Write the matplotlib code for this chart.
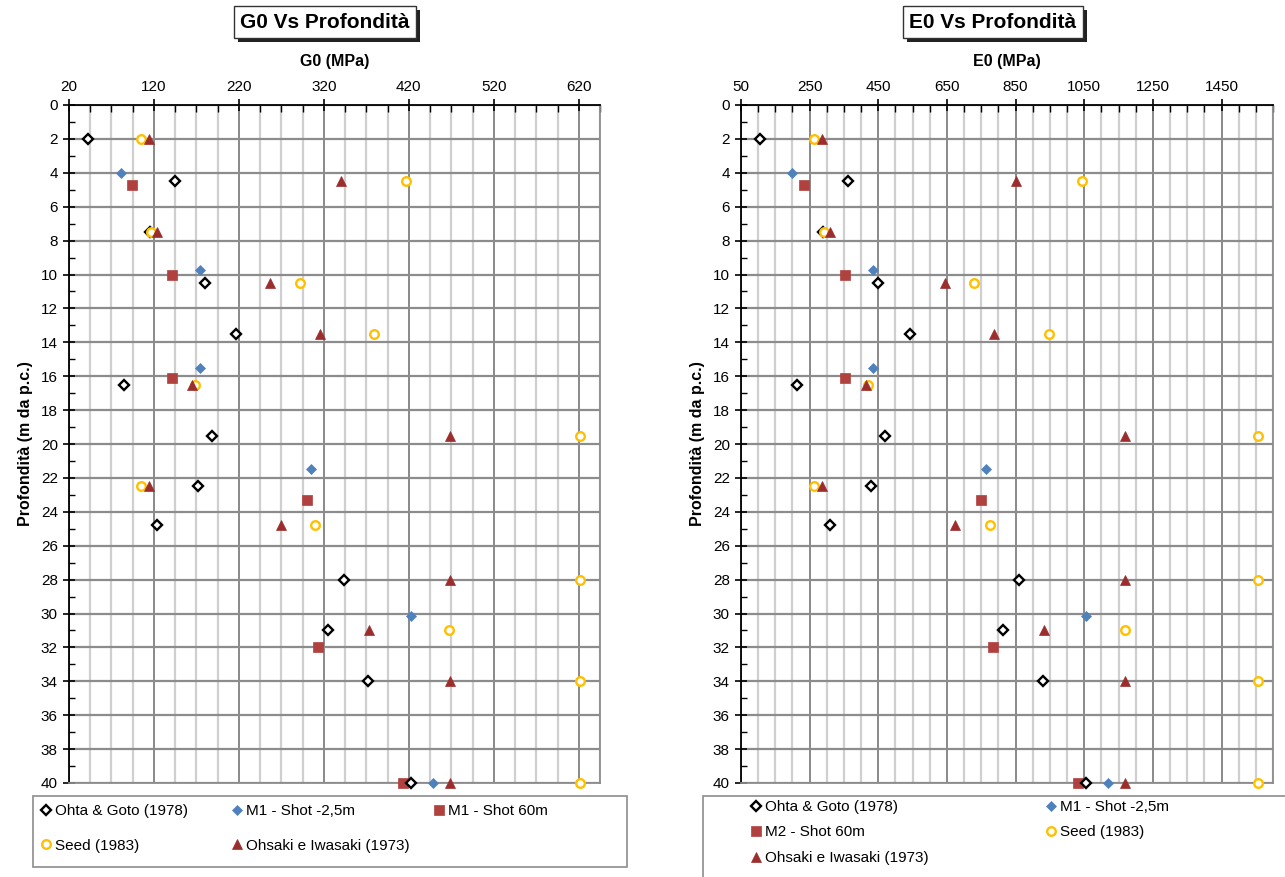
import matplotlib
matplotlib.use("Agg")
import matplotlib.pyplot as plt
from matplotlib.lines import Line2D
from matplotlib.patches import Rectangle
import matplotlib.patheffects as pe
import numpy as np

plt.rcParams['font.family'] = ['Liberation Sans', 'DejaVu Sans']

# ---------------- data ----------------
depth_main = [2, 4.5, 7.5, 10.5, 13.5, 16.5, 19.5, 22.5, 24.75, 28, 31, 34, 40]
m1_depth = [4, 9.75, 15.5, 21.5, 30.15, 40]
m60_depth = [4.7, 10, 16.1, 23.3, 32, 40]

# G0 (MPa)
ohta_g0 = [42, 145, 115, 180, 217, 85, 188, 172, 123, 344, 325, 372, 422]
m1_g0 = [81, 174, 174, 305, 422, 448]
m60_g0 = [94, 141, 141, 300, 313, 413]
seed_g0 = [105, 417, 117, 292, 379, 168, 622, 105, 310, 622, 467, 622, 622]
ohsaki_g0 = [114, 340, 124, 257, 315, 165, 468, 114, 269, 468, 373, 468, 468]

# E0 (MPa)
ohta_e0 = [105, 362, 288, 450, 543, 213, 470, 430, 308, 860, 813, 930, 1055]
m1_e0 = [200, 435, 435, 763, 1055, 1120]
m2_e0 = [235, 352, 352, 750, 783, 1033]
seed_e0 = [262, 1043, 293, 730, 948, 420, 1555, 262, 775, 1555, 1168, 1555, 1555]
ohsaki_e0 = [285, 850, 310, 643, 788, 413, 1170, 285, 673, 1170, 933, 1170, 1170]

labels_g = ["Ohta & Goto (1978)", "M1 - Shot -2,5m", "M1 - Shot 60m",
            "Seed (1983)", "Ohsaki e Iwasaki (1973)"]
labels_e = ["Ohta & Goto (1978)", "M1 - Shot -2,5m", "M2 - Shot 60m",
            "Seed (1983)", "Ohsaki e Iwasaki (1973)"]

# ---------------- styles ----------------
BLUE = '#4F81BD'
RED_SQ = '#B0413E'
RED_TR = '#9B2D2D'
YEL = '#FFC000'

sty_ohta = dict(marker='D', ms=5.5, mfc='white', mec='black', mew=1.7, ls='none', zorder=5)
sty_m1 = dict(marker='D', ms=5.0, mfc=BLUE, mec=BLUE, mew=0.5, ls='none', zorder=5)
sty_m60 = dict(marker='s', ms=7.8, mfc=RED_SQ, mec=RED_SQ, mew=0.5, ls='none', zorder=4)
sty_seed = dict(marker='o', ms=6.2, mfc='white', mec=YEL, mew=1.7, ls='none', zorder=6)
sty_ohs = dict(marker='^', ms=7.5, mfc=RED_TR, mec=RED_TR, mew=0.5, ls='none', zorder=7)

W, H = 1285, 877
fig = plt.figure(figsize=(W / 100, H / 100), dpi=100)


def fx(px):
    return px / W


def fy(py):
    return 1 - py / H


def setup(ax, xmin, xmax, major, minor, xlabel):
    ax.set_xlim(xmin, xmax)
    ax.set_ylim(40, 0)
    ax.xaxis.tick_top()
    ax.xaxis.set_label_position('top')
    ax.set_xticks(np.arange(xmin, xmax + 1, major))
    ax.set_xticks(np.arange(xmin, xmax + 1, minor), minor=True)
    ax.set_yticks(np.arange(0, 41, 2))
    ax.set_yticks(np.arange(0, 41, 1), minor=True)
    ax.grid(which='minor', axis='x', color='#cfcfcf', lw=1.6, zorder=0)
    ax.grid(which='major', axis='x', color='#808080', lw=1.3, zorder=1)
    ax.grid(which='major', axis='y', color='#8c8c8c', lw=1.6, zorder=1)
    ax.set_axisbelow(True)
    ax.tick_params(axis='x', which='major', direction='inout', length=8, width=1.2,
                   labelsize=11, pad=4, color='black', top=True, bottom=False)
    ax.tick_params(axis='x', which='minor', direction='in', length=5, width=1.0,
                   top=True, bottom=False)
    ax.tick_params(axis='y', which='major', direction='inout', length=8, width=1.2,
                   labelsize=11, pad=4)
    ax.tick_params(axis='y', which='minor', direction='in', length=4, width=1.0)
    for s in ['top', 'left']:
        ax.spines[s].set_color('black')
        ax.spines[s].set_linewidth(1.3)
    for s in ['right', 'bottom']:
        ax.spines[s].set_color('#8c8c8c')
        ax.spines[s].set_linewidth(1.3)
    ax.set_xlabel(xlabel, fontsize=11.5, fontweight='bold', labelpad=10)
    ax.set_ylabel('Profondità (m da p.c.)', fontsize=11.5, fontweight='bold', labelpad=6)


def title(xc, yc, txt):
    t = fig.text(fx(xc), fy(yc), txt, ha='center', va='center', fontsize=15,
                 fontweight='bold',
                 bbox=dict(boxstyle='square,pad=0.3', fc='white', ec='#333333', lw=1.0))
    t.get_bbox_patch().set_path_effects([
        pe.SimplePatchShadow(offset=(3, -3), shadow_rgbFace='#222222', alpha=1.0),
        pe.Normal()])


# ---------------- left: G0 ----------------
axL = fig.add_axes([fx(69), fy(783), fx(600) - fx(69), fy(105) - fy(783)])
setup(axL, 20, 645, 100, 25, 'G0 (MPa)')
axL.plot(ohta_g0, depth_main, **sty_ohta)
axL.plot(m1_g0, m1_depth, **sty_m1)
axL.plot(m60_g0, m60_depth, **sty_m60)
axL.plot(seed_g0, depth_main, **sty_seed)
axL.plot(ohsaki_g0, depth_main, **sty_ohs)
for a in axL.lines:
    a.set_clip_on(False)
title(325, 22, 'G0 Vs Profondità')

# ---------------- right: E0 ----------------
axR = fig.add_axes([fx(741), fy(783), fx(1273) - fx(741), fy(105) - fy(783)])
setup(axR, 50, 1600, 200, 50, 'E0 (MPa)')
axR.plot(ohta_e0, depth_main, **sty_ohta)
axR.plot(m1_e0, m1_depth, **sty_m1)
axR.plot(m2_e0, m60_depth, **sty_m60)
axR.plot(seed_e0, depth_main, **sty_seed)
axR.plot(ohsaki_e0, depth_main, **sty_ohs)
for a in axR.lines:
    a.set_clip_on(False)
title(993, 22, 'E0 Vs Profondità')

# ---------------- legends ----------------
def handle(sty):
    d = dict(sty)
    d.pop('zorder', None)
    return Line2D([], [], **d)

h = [handle(s) for s in (sty_ohta, sty_m1, sty_m60, sty_seed, sty_ohs)]

fig.patches.append(Rectangle((fx(33), fy(867)), fx(627) - fx(33), fy(796) - fy(867),
                             transform=fig.transFigure, fc='white', ec='#8c8c8c', lw=1.2))
fig.patches.append(Rectangle((fx(703), fy(890)), fx(1300) - fx(703), fy(796) - fy(890),
                             transform=fig.transFigure, fc='white', ec='#8c8c8c', lw=1.2))

leg_kw = dict(frameon=False, fontsize=11, handlelength=0.8, handletextpad=0.15,
              labelspacing=1.35, borderpad=0, borderaxespad=0, loc='upper left',
              bbox_transform=fig.transFigure)

def add_leg(hs, ls, x, y):
    lg = fig.legend(hs, ls, bbox_to_anchor=(fx(x), fy(y)), **leg_kw)
    return lg

add_leg([h[0], h[3]], [labels_g[0], labels_g[3]], 40, 804)
add_leg([h[1], h[4]], [labels_g[1], labels_g[4]], 231, 804)
add_leg([h[2]], [labels_g[2]], 433, 804)

leg_kw['labelspacing'] = 0.75
add_leg([h[0], h[2], h[4]], [labels_e[0], labels_e[2], labels_e[4]], 750, 800)
add_leg([h[1], h[3]], [labels_e[1], labels_e[3]], 1045, 800)

fig.savefig('out.png', dpi=100)
